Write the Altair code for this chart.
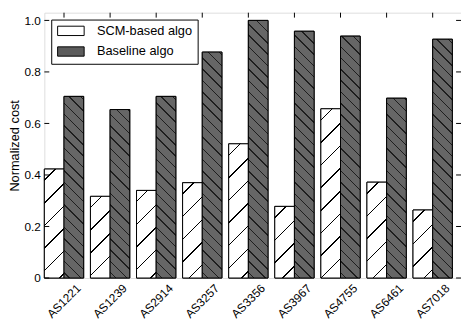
import altair as alt
import pandas as pd

categories = ["AS1221", "AS1239", "AS2914", "AS3257", "AS3356", "AS3967", "AS4755", "AS6461", "AS7018"]
scm_values = [0.423, 0.317, 0.340, 0.370, 0.521, 0.278, 0.657, 0.372, 0.264]
baseline_values = [0.705, 0.654, 0.705, 0.877, 1.000, 0.958, 0.939, 0.698, 0.927]
series_names = ["SCM-based algo", "Baseline algo"]
y_ticks = [0.0, 0.2, 0.4, 0.6, 0.8, 1.0]

rows = []
for c, s, b in zip(categories, scm_values, baseline_values):
    rows.append({"asn": c, "algo": series_names[0], "cost": s})
    rows.append({"asn": c, "algo": series_names[1], "cost": b})
df = pd.DataFrame(rows)
cat_df = pd.DataFrame({"asn": categories})
tick_df = pd.DataFrame({"v": y_ticks})

W, H = 424, 270
YMAX = 1.03
FONT = "Liberation Sans"
P_IN, P_OUT = 0.147, 0.094
STEP = W / (len(categories) - P_IN + 2 * P_OUT)
BAR_W = STEP * (1 - P_IN) / 2

FILLS = {series_names[0]: ("#ffffff", "#000000", 23.0, "/"),
         series_names[1]: ("#666666", "#1e1e1e", 11.5, "\\")}

xscale = alt.Scale(domain=categories, paddingInner=P_IN, paddingOuter=P_OUT, align=0)
yscale = alt.Scale(domain=[0, YMAX], nice=False)
xoff_scale = alt.Scale(domain=series_names, paddingInner=0, paddingOuter=0)


def hatch_gradient(value, algo):
    """Gradient fill that draws hatch lines inside one bar (bbox units)."""
    base, line, pitch, kind = FILLS[algo]
    w = BAR_W
    h = max(value / YMAX * H, 1.0)
    k = w / (w * w + h * h)
    half = 0.75 * k
    stops = [alt.GradientStop(offset=0, color=base)]
    pos = pitch / 2
    while pos < w + h:
        t = pos * k
        a, b = max(t - half, 0), min(t + half, 1)
        stops += [alt.GradientStop(offset=a, color=base), alt.GradientStop(offset=a, color=line),
                  alt.GradientStop(offset=b, color=line), alt.GradientStop(offset=b, color=base)]
        pos += pitch
    stops.append(alt.GradientStop(offset=1, color=base))
    if kind == "/":
        return alt.LinearGradient(gradient="linear", stops=stops, x1=0, y1=0, x2=1, y2=h / w)
    return alt.LinearGradient(gradient="linear", stops=stops, x1=0, y1=1, x2=1, y2=1 - h / w)


bars = alt.Chart(df).mark_bar(stroke="black", strokeWidth=1).encode(
    x=alt.X("asn:N", scale=xscale, title=None,
            axis=alt.Axis(labelAngle=-45, labelAlign="center", labelBaseline="middle",
                          labelPadding=23, ticks=False, domain=False, labelFontSize=12,
                          labelColor="black", labelFont=FONT)),
    xOffset=alt.XOffset("algo:N", sort=series_names, scale=xoff_scale),
    y=alt.Y("cost:Q", scale=yscale, title="Normalized cost",
            axis=alt.Axis(values=y_ticks, labelExpr="datum.value == 0 ? '0' : format(datum.value, '.1f')",
                          ticks=False, domain=False, grid=False, labelPadding=4, labelFontSize=12,
                          labelColor="black", labelFont=FONT, titleFont=FONT, titleFontSize=13,
                          titleFontWeight="normal", titleColor="black",
                          titleX=-30, titleY=H / 2, titleAlign="center", titleBaseline="middle")),
    color=alt.Color("algo:N", sort=series_names,
                    scale=alt.Scale(domain=series_names, range=["white", "#5c5c5c"]),
                    legend=alt.Legend(title=None, orient="none", legendX=7, legendY=7,
                                      symbolType="M-2.7,-0.95H2.7V0.95H-2.7Z", symbolSize=100,
                                      symbolStrokeColor="black", symbolStrokeWidth=1,
                                      symbolOffset=8.5, labelOffset=20,
                                      labelFontSize=13, labelFont=FONT, labelColor="black",
                                      fillColor="white", strokeColor="black", padding=5,
                                      rowPadding=6, cornerRadius=0)),
)

hatch_layers = []
for i, r in df.iterrows():
    hatch_layers.append(
        alt.Chart(df.iloc[[i]]).mark_bar(stroke="black", strokeWidth=1,
                                         fill=hatch_gradient(r["cost"], r["algo"])).encode(
            x=alt.X("asn:N", scale=xscale),
            xOffset=alt.XOffset("algo:N", scale=xoff_scale),
            y=alt.Y("cost:Q", scale=yscale),
        )
    )

top_ticks = alt.Chart(cat_df).mark_rule(color="black", strokeWidth=1).encode(
    x=alt.X("asn:N", scale=xscale),
    y=alt.value(0), y2=alt.value(5),
)
left_ticks = alt.Chart(tick_df).mark_rule(color="black", strokeWidth=1).encode(
    y=alt.Y("v:Q", scale=yscale),
    x=alt.value(0), x2=alt.value(5),
)
right_ticks = alt.Chart(tick_df).mark_rule(color="black", strokeWidth=1).encode(
    y=alt.Y("v:Q", scale=yscale),
    x=alt.value(W - 5), x2=alt.value(W),
)

chart = alt.layer(bars, *hatch_layers, top_ticks, left_ticks, right_ticks).properties(
    width=W, height=H,
    padding={"left": 37, "top": 2, "right": 0, "bottom": 42},
    autosize=alt.AutoSizeParams(type="none"),
).configure_view(stroke="black", strokeWidth=1).configure(background="white")

chart.save("out.html", embed_options={"renderer": "svg", "actions": False})
